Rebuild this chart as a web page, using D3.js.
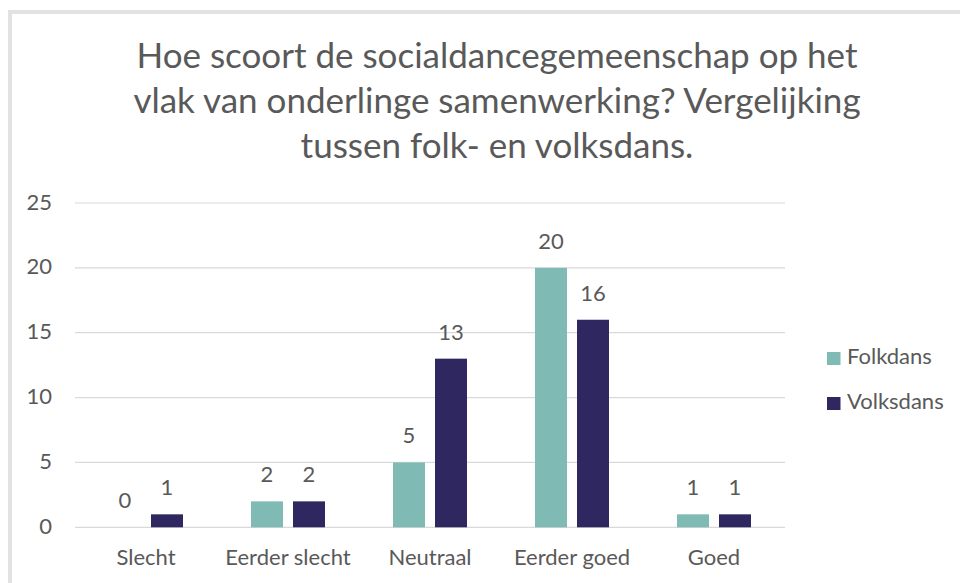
<!DOCTYPE html>
<html>
<head>
<meta charset="utf-8">
<script src="https://cdn.jsdelivr.net/npm/d3@7"></script>
<style>
  html, body { margin: 0; padding: 0; background: #fff; }
  svg { display: block; }
  text { font-family: Lato, "Open Sans", sans-serif; fill: #595959; }
</style>
</head>
<body>
<script>
// ---- data ----
const categories = ["Slecht", "Eerder slecht", "Neutraal", "Eerder goed", "Goed"];
const seriesNames = ["Folkdans", "Volksdans"];
const folkdans = [0, 2, 5, 20, 1];
const volksdans = [1, 2, 13, 16, 1];
const yTicks = [0, 5, 10, 15, 20, 25];
const titleLines = [
  "Hoe scoort de socialdancegemeenschap op het",
  "vlak van onderlinge samenwerking? Vergelijking",
  "tussen folk- en volksdans."
];
const colors = ["#7FBBB4", "#2F2760"];

// ---- layout ----
const W = 960, H = 583;
const plot = { left: 75, right: 785, top: 203, bottom: 527.3 };
const labelFont = 22, titleFont = 35;

const svg = d3.select("body").append("svg").attr("width", W).attr("height", H);

// chart frame (extends beyond window on right/bottom)
svg.append("rect")
  .attr("x", 10).attr("y", 12)
  .attr("width", 1000).attr("height", 1000)
  .attr("fill", "none").attr("stroke", "#E2E2E2").attr("stroke-width", 4);

// title
const titleCx = 497;
svg.append("g").selectAll("text").data(titleLines).join("text")
  .attr("x", titleCx)
  .attr("y", (d, i) => 68 + i * 45)
  .attr("text-anchor", "middle")
  .attr("font-size", titleFont)
  .text(d => d);

// scales
const y = d3.scaleLinear().domain([0, 25]).range([plot.bottom, plot.top]);
const x0 = d3.scaleBand().domain(categories).range([plot.left, plot.right]).padding(0);
const groupW = 74;
const x1 = d3.scaleBand().domain(seriesNames).range([0, groupW]).paddingInner(10 / 42).paddingOuter(0);
const groupOffset = (x0.bandwidth() - groupW) / 2;

// gridlines
svg.append("g").selectAll("line").data(yTicks).join("line")
  .attr("x1", plot.left).attr("x2", plot.right)
  .attr("y1", d => y(d)).attr("y2", d => y(d))
  .attr("stroke", "#D9D9D9").attr("stroke-width", 1.2);

// y axis labels
svg.append("g").selectAll("text").data(yTicks).join("text")
  .attr("x", 52)
  .attr("y", d => y(d) + 6.5)
  .attr("text-anchor", "end")
  .attr("font-size", labelFont)
  .text(d => d);

// x axis labels
svg.append("g").selectAll("text").data(categories).join("text")
  .attr("x", d => x0(d) + x0.bandwidth() / 2)
  .attr("y", 565)
  .attr("text-anchor", "middle")
  .attr("font-size", labelFont)
  .text(d => d);

// bars
const seriesData = [folkdans, volksdans];
const flat = [];
categories.forEach((c, ci) => {
  seriesNames.forEach((s, si) => {
    flat.push({ cat: c, series: s, si, value: seriesData[si][ci] });
  });
});

svg.append("g").selectAll("rect").data(flat).join("rect")
  .attr("x", d => x0(d.cat) + groupOffset + x1(d.series))
  .attr("y", d => y(d.value))
  .attr("width", x1.bandwidth())
  .attr("height", d => y(0) - y(d.value))
  .attr("fill", d => colors[d.si]);

// data labels
svg.append("g").selectAll("text").data(flat).join("text")
  .attr("x", d => x0(d.cat) + groupOffset + x1(d.series) + x1.bandwidth() / 2)
  .attr("y", d => y(d.value) - 19)
  .attr("text-anchor", "middle")
  .attr("font-size", labelFont)
  .text(d => d.value);

// legend
const legend = svg.append("g").selectAll("g").data(seriesNames).join("g")
  .attr("transform", (d, i) => `translate(827, ${363.5 + i * 45})`);
legend.append("rect")
  .attr("x", 0).attr("y", -11.5)
  .attr("width", 13.5).attr("height", 13)
  .attr("fill", (d, i) => colors[i]);
legend.append("text")
  .attr("x", 20).attr("y", 0)
  .attr("font-size", labelFont)
  .text(d => d);
</script>
</body>
</html>
